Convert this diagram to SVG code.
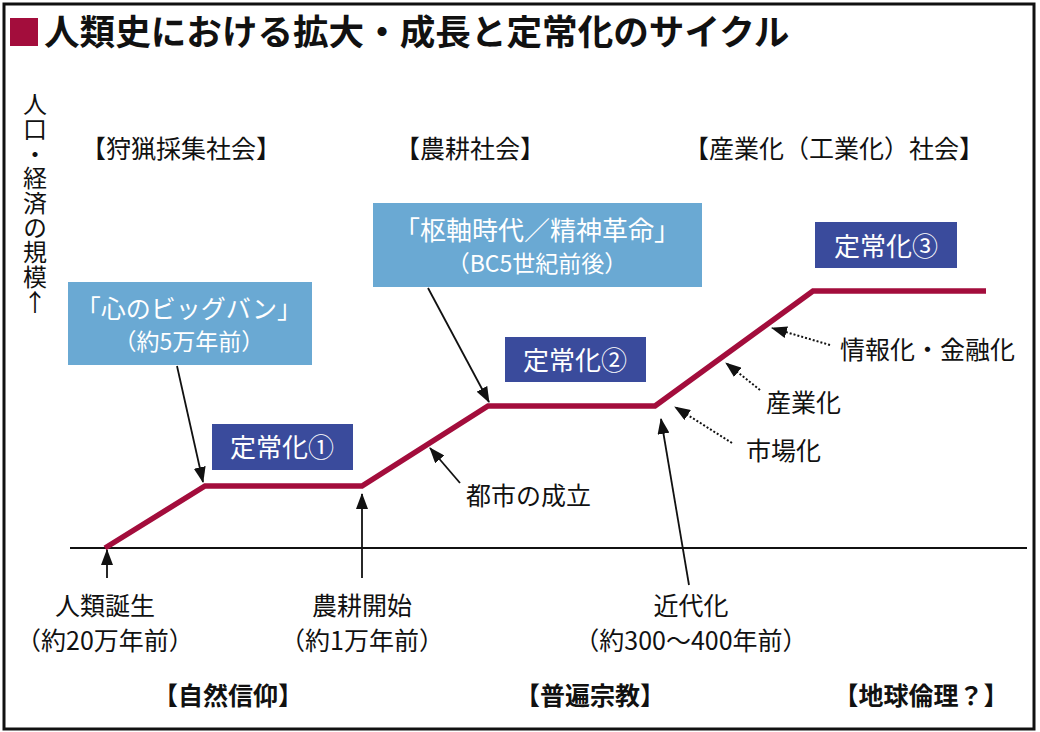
<svg xmlns="http://www.w3.org/2000/svg" width="1040" height="732" viewBox="0 0 1040 732">
<style>
text{font-family:"Noto Sans CJK JP","Noto Sans CJK SC",sans-serif;fill:#111;}
.t{font-size:35.6px;font-weight:700;}
.h{font-size:25px;text-anchor:middle;}
.hb{font-size:25px;font-weight:700;text-anchor:middle;}
.l{font-size:25px;text-anchor:middle;}
.lb{font-size:25px;}
.w{fill:#fff;text-anchor:middle;}
.lbox{fill:#6AA9D3;}
.dbox{fill:#3A4B9C;}
.ar{stroke:#111;stroke-width:1.8;fill:none;marker-end:url(#ah);}
.dt{stroke:#111;stroke-width:2;fill:none;stroke-dasharray:2 2;marker-end:url(#ah);}
</style>
<defs>
<marker id="ah" viewBox="0 0 16 12" refX="15" refY="6" markerWidth="16" markerHeight="12" markerUnits="userSpaceOnUse" orient="auto">
<path d="M0,0 L16,6 L0,12 z" fill="#111"/>
</marker>
</defs>
<rect x="0" y="0" width="1040" height="732" fill="#fff"/>
<rect x="4" y="4" width="1030" height="725" fill="none" stroke="#111" stroke-width="3"/>

<g id="title">
<rect x="10" y="18" width="28" height="28" fill="#A30D3C"/>
<text class="t" x="44" y="45">人類史における拡大・成長と定常化のサイクル</text>
</g>

<g id="yaxis-label">
<text x="35" y="92" style="font-size:24px;writing-mode:vertical-rl;text-orientation:upright;letter-spacing:0.7px">人口・経済の規模↑</text>
</g>

<g id="headers-top">
<text class="h" x="181" y="158">【狩猟採集社会】</text>
<text class="h" x="470" y="158">【農耕社会】</text>
<text class="h" x="834" y="158">【産業化（工業化）社会】</text>
</g>

<g id="headers-bottom">
<text class="hb" x="228" y="705">【自然信仰】</text>
<text class="hb" x="590" y="705">【普遍宗教】</text>
<text class="hb" x="921" y="705">【地球倫理？】</text>
</g>

<g id="axis">
<line x1="70" y1="548" x2="1027" y2="548" stroke="#111" stroke-width="2"/>
</g>

<g id="curve">
<polyline points="105,548 205,486 362,486 488,406 655,406 813,291 986,291" fill="none" stroke="#A30D3C" stroke-width="5.5" stroke-linejoin="miter"/>
</g>

<g id="connectors">
<line class="ar" x1="177" y1="366" x2="203" y2="482"/>
<line class="ar" x1="428" y1="288" x2="489" y2="402"/>
<line class="ar" x1="362" y1="578" x2="362" y2="494"/>
<line class="ar" x1="107" y1="578" x2="107" y2="550"/>
<line class="ar" x1="460" y1="483" x2="430" y2="448"/>
<line class="ar" x1="689" y1="585" x2="661" y2="419"/>
<line class="dt" x1="732" y1="443" x2="675" y2="407"/>
<line class="dt" x1="760" y1="390" x2="726" y2="363"/>
<line class="dt" x1="830" y1="345" x2="772" y2="328"/>
</g>

<g id="node-bigbang">
<rect class="lbox" x="68" y="282" width="244" height="83"/>
<text class="w" x="189" y="318" style="font-size:25px">「心のビッグバン」</text>
<text class="w" x="189" y="350" style="font-size:23px">（約5万年前）</text>
</g>

<g id="node-axial">
<rect class="lbox" x="373" y="203" width="329" height="84"/>
<text class="w" x="537" y="240" style="font-size:26px">「枢軸時代／精神革命」</text>
<text class="w" x="537" y="272" style="font-size:23px">（BC5世紀前後）</text>
</g>

<g id="node-steady1">
<rect class="dbox" x="212" y="424" width="141" height="46"/>
<text class="w" x="282" y="457" style="font-size:26px">定常化①</text>
</g>
<g id="node-steady2">
<rect class="dbox" x="505" y="337" width="141" height="45"/>
<text class="w" x="575" y="370" style="font-size:26px">定常化②</text>
</g>
<g id="node-steady3">
<rect class="dbox" x="815" y="222" width="142" height="46"/>
<text class="w" x="886" y="256" style="font-size:26px">定常化③</text>
</g>

<g id="label-city"><text class="lb" x="466" y="505">都市の成立</text></g>
<g id="label-market"><text class="lb" x="746" y="460">市場化</text></g>
<g id="label-industry"><text class="lb" x="766" y="412">産業化</text></g>
<g id="label-info"><text class="lb" x="840" y="359">情報化・金融化</text></g>

<g id="label-birth">
<text class="l" x="105" y="615">人類誕生</text>
<text class="l" x="105" y="650">（約20万年前）</text>
</g>
<g id="label-agri">
<text class="l" x="362" y="615">農耕開始</text>
<text class="l" x="362" y="650">（約1万年前）</text>
</g>
<g id="label-modern">
<text class="l" x="691" y="615">近代化</text>
<text class="l" x="691" y="650">（約300〜400年前）</text>
</g>
</svg>
